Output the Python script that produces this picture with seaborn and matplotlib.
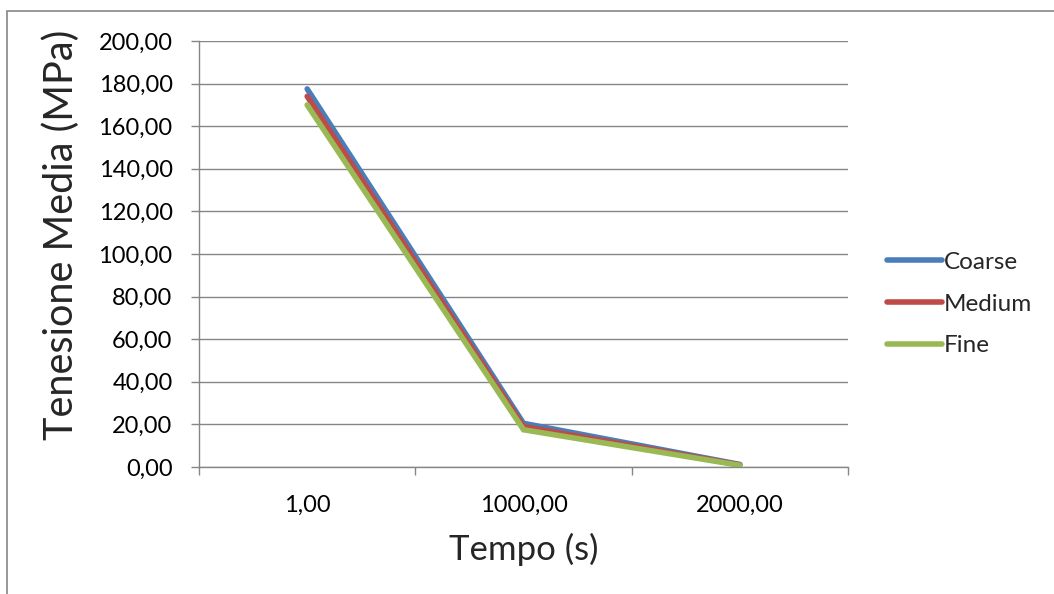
import matplotlib
matplotlib.use("Agg")
import matplotlib.pyplot as plt
import matplotlib.patches as mpatches
import seaborn as sns
import pandas as pd

# Mean stress over time for three mesh refinements
tempo = ["1,00", "1000,00", "2000,00"]
coarse = [177.5, 20.5, 1.2]
medium = [174.0, 19.0, 1.0]
fine = [170.0, 17.5, 0.8]
series_names = ["Coarse", "Medium", "Fine"]
y_ticks = [0, 20, 40, 60, 80, 100, 120, 140, 160, 180, 200]

df = pd.DataFrame({
    "Tempo": tempo * 3,
    "Tensione": coarse + medium + fine,
    "Mesh": [n for n in series_names for _ in tempo],
})

sns.set_theme(style="white")
plt.rcParams["font.family"] = ["Lato", "DejaVu Sans"]

W, H = 1054, 594
fig = plt.figure(figsize=(W / 100, H / 100), dpi=100)
ax = fig.add_axes([199 / W, 1 - 467 / H, (848 - 199) / W, (467 - 41) / H])

palette = {"Coarse": "#4A7EBB", "Medium": "#BE4B48", "Fine": "#98B954"}
sns.lineplot(data=df, x="Tempo", y="Tensione", hue="Mesh", hue_order=series_names,
             palette=palette, linewidth=4, ax=ax, sort=False,
             solid_capstyle="round", solid_joinstyle="miter")

grey = "#868686"
ax.set_xlim(-0.5, 2.5)
ax.set_ylim(0, 200)
ax.set_yticks(y_ticks)
ax.set_yticklabels([f"{v:.2f}".replace(".", ",") for v in y_ticks])
ax.yaxis.grid(True, color=grey, linewidth=1)
ax.set_axisbelow(True)

# category boundaries carry the x tick marks; labels sit at category centers
ax.set_xticks([0, 1, 2])
ax.set_xticklabels(tempo)
ax.set_xticks([-0.5, 0.5, 1.5, 2.5], minor=True)
ax.tick_params(axis="x", which="major", length=0, pad=20, labelsize=17, colors="black")
ax.tick_params(axis="x", which="minor", length=6, width=1, color=grey, direction="out", bottom=True)
ax.tick_params(axis="y", length=6, width=1, color=grey, direction="out", left=True,
               pad=13, labelsize=17, labelcolor="black")

for side in ["top", "right"]:
    ax.spines[side].set_visible(False)
for side in ["left", "bottom"]:
    ax.spines[side].set_color(grey)
    ax.spines[side].set_linewidth(1)

ax.set_xlabel("Tempo (s)", fontsize=25, labelpad=12)
ax.set_ylabel("Tenesione Media (MPa)", fontsize=28.5, labelpad=13)
ax.yaxis.label.set_y(1 - (235 - 41) / 426)

leg = ax.legend(loc="center left", bbox_to_anchor=((887 - 199) / 649, 1 - (304 - 41) / 426),
                frameon=False, borderpad=0, borderaxespad=0,
                fontsize=17.5, handlelength=2.25, handletextpad=0.1, labelspacing=0.85)
for line in leg.get_lines():
    line.set_linewidth(4)
    line.set_solid_capstyle("round")

# outer chart border
fig.patches.append(mpatches.Rectangle((7 / W, -0.1), 1.2, 1 - 11 / H + 0.1,
                                      transform=fig.transFigure, fill=False,
                                      edgecolor=grey, linewidth=1.2))

fig.savefig("out.png", dpi=100)
